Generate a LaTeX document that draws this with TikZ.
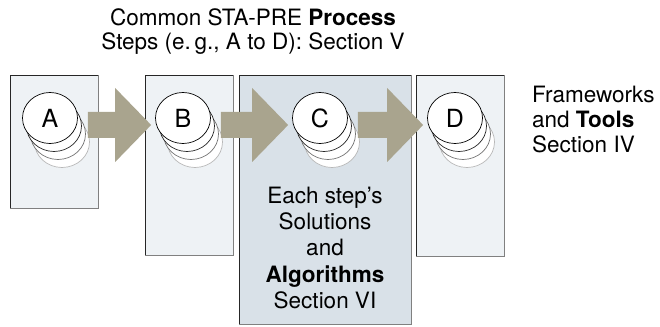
\documentclass[tikz,border=0pt]{standalone}
\usepackage{fontspec}
\setmainfont{TeX Gyre Heros}
\usetikzlibrary{shapes.geometric,calc}

\definecolor{paneLight}{HTML}{EEF2F5}
\definecolor{paneDark}{HTML}{D9E1E8}
\definecolor{arrowTan}{HTML}{A9A48E}

\tikzset{
  stepbox/.style={rectangle, draw=black!85, line width=0.8pt, inner sep=0pt, anchor=north west},
  disc/.style={ellipse, fill=white, line width=0.7pt, inner sep=0pt,
    minimum width=55pt, minimum height=51pt, font=\fontsize{25}{28}\selectfont},
  body/.style={font=\fontsize{22.5}{24}\selectfont, inner sep=0pt},
}

% pane with a soft grey edge on the right and bottom
\newcommand\stepPane[6]{%
  \node[stepbox, fill=#6, minimum width=#4pt, minimum height=#5pt] (#1) at (#2,#3) {};
  \draw[black!50, line width=1.2pt] (#1.south west) -- (#1.south east) -- (#1.north east);
}

% a stack of discs with the labelled one in front
\newcommand\stepStack[3]{%
  \foreach \k/\c in {3/black!28,2/black!55,1/black!85}{%
    \node[disc, draw=\c] at ($(#2)+(4*\k,-8*\k)$) {};}
  \node[disc, draw=black] (#1) at (#2) {#3};
}

% broad block arrow from one disc to the next
\newcommand\stepFlow[2]{%
  \fill[arrowTan] let \p1=(#1.east), \p2=(#2.west) in
    (\x1+10pt,214pt) -- (\x2-40pt,214pt) -- (\x2-40pt,238pt) -- (\x2-4pt,201pt)
    -- (\x2-40pt,164pt) -- (\x2-40pt,188pt) -- (\x1+10pt,188pt) -- cycle;
}

\begin{document}
\begin{tikzpicture}[x=1pt,y=1pt]
  \useasboundingbox (0,0) rectangle (660,326);

  % panes
  \stepPane{paneA}{10}{251}{88}{133}{paneLight}
  \stepPane{paneB}{145}{251}{88}{180}{paneLight}
  \stepPane{paneC}{239}{251}{172}{249}{paneDark}
  \stepPane{paneD}{416}{251}{88}{181}{paneLight}

  % step discs
  \coordinate (posA) at (50,208);
  \coordinate (posB) at (183,208);
  \coordinate (posC) at (320,208);
  \coordinate (posD) at (455,208);
  \stepStack{discA}{posA}{A}
  \stepStack{discB}{posB}{B}
  \stepStack{discC}{posC}{C}
  \stepStack{discD}{posD}{D}

  % flow between steps
  \stepFlow{discA}{discB}
  \stepFlow{discB}{discC}
  \stepFlow{discC}{discD}

  % labels
  \node[body, align=center] (title) at (253,294)
    {Common STA-PRE \textbf{Process}\\Steps (e.\,g., A to D): Section V};
  \node[body, align=center, font=\fontsize{22.5}{26.3}\selectfont] (algo) at (325,78)
    {Each step’s\\Solutions\\and\\\textbf{Algorithms}\\Section VI};
  \node[body, align=left, anchor=west, font=\fontsize{22.5}{25}\selectfont] (tools) at (532,206)
    {Frameworks\\and \textbf{Tools}\\Section IV};
\end{tikzpicture}
\end{document}
